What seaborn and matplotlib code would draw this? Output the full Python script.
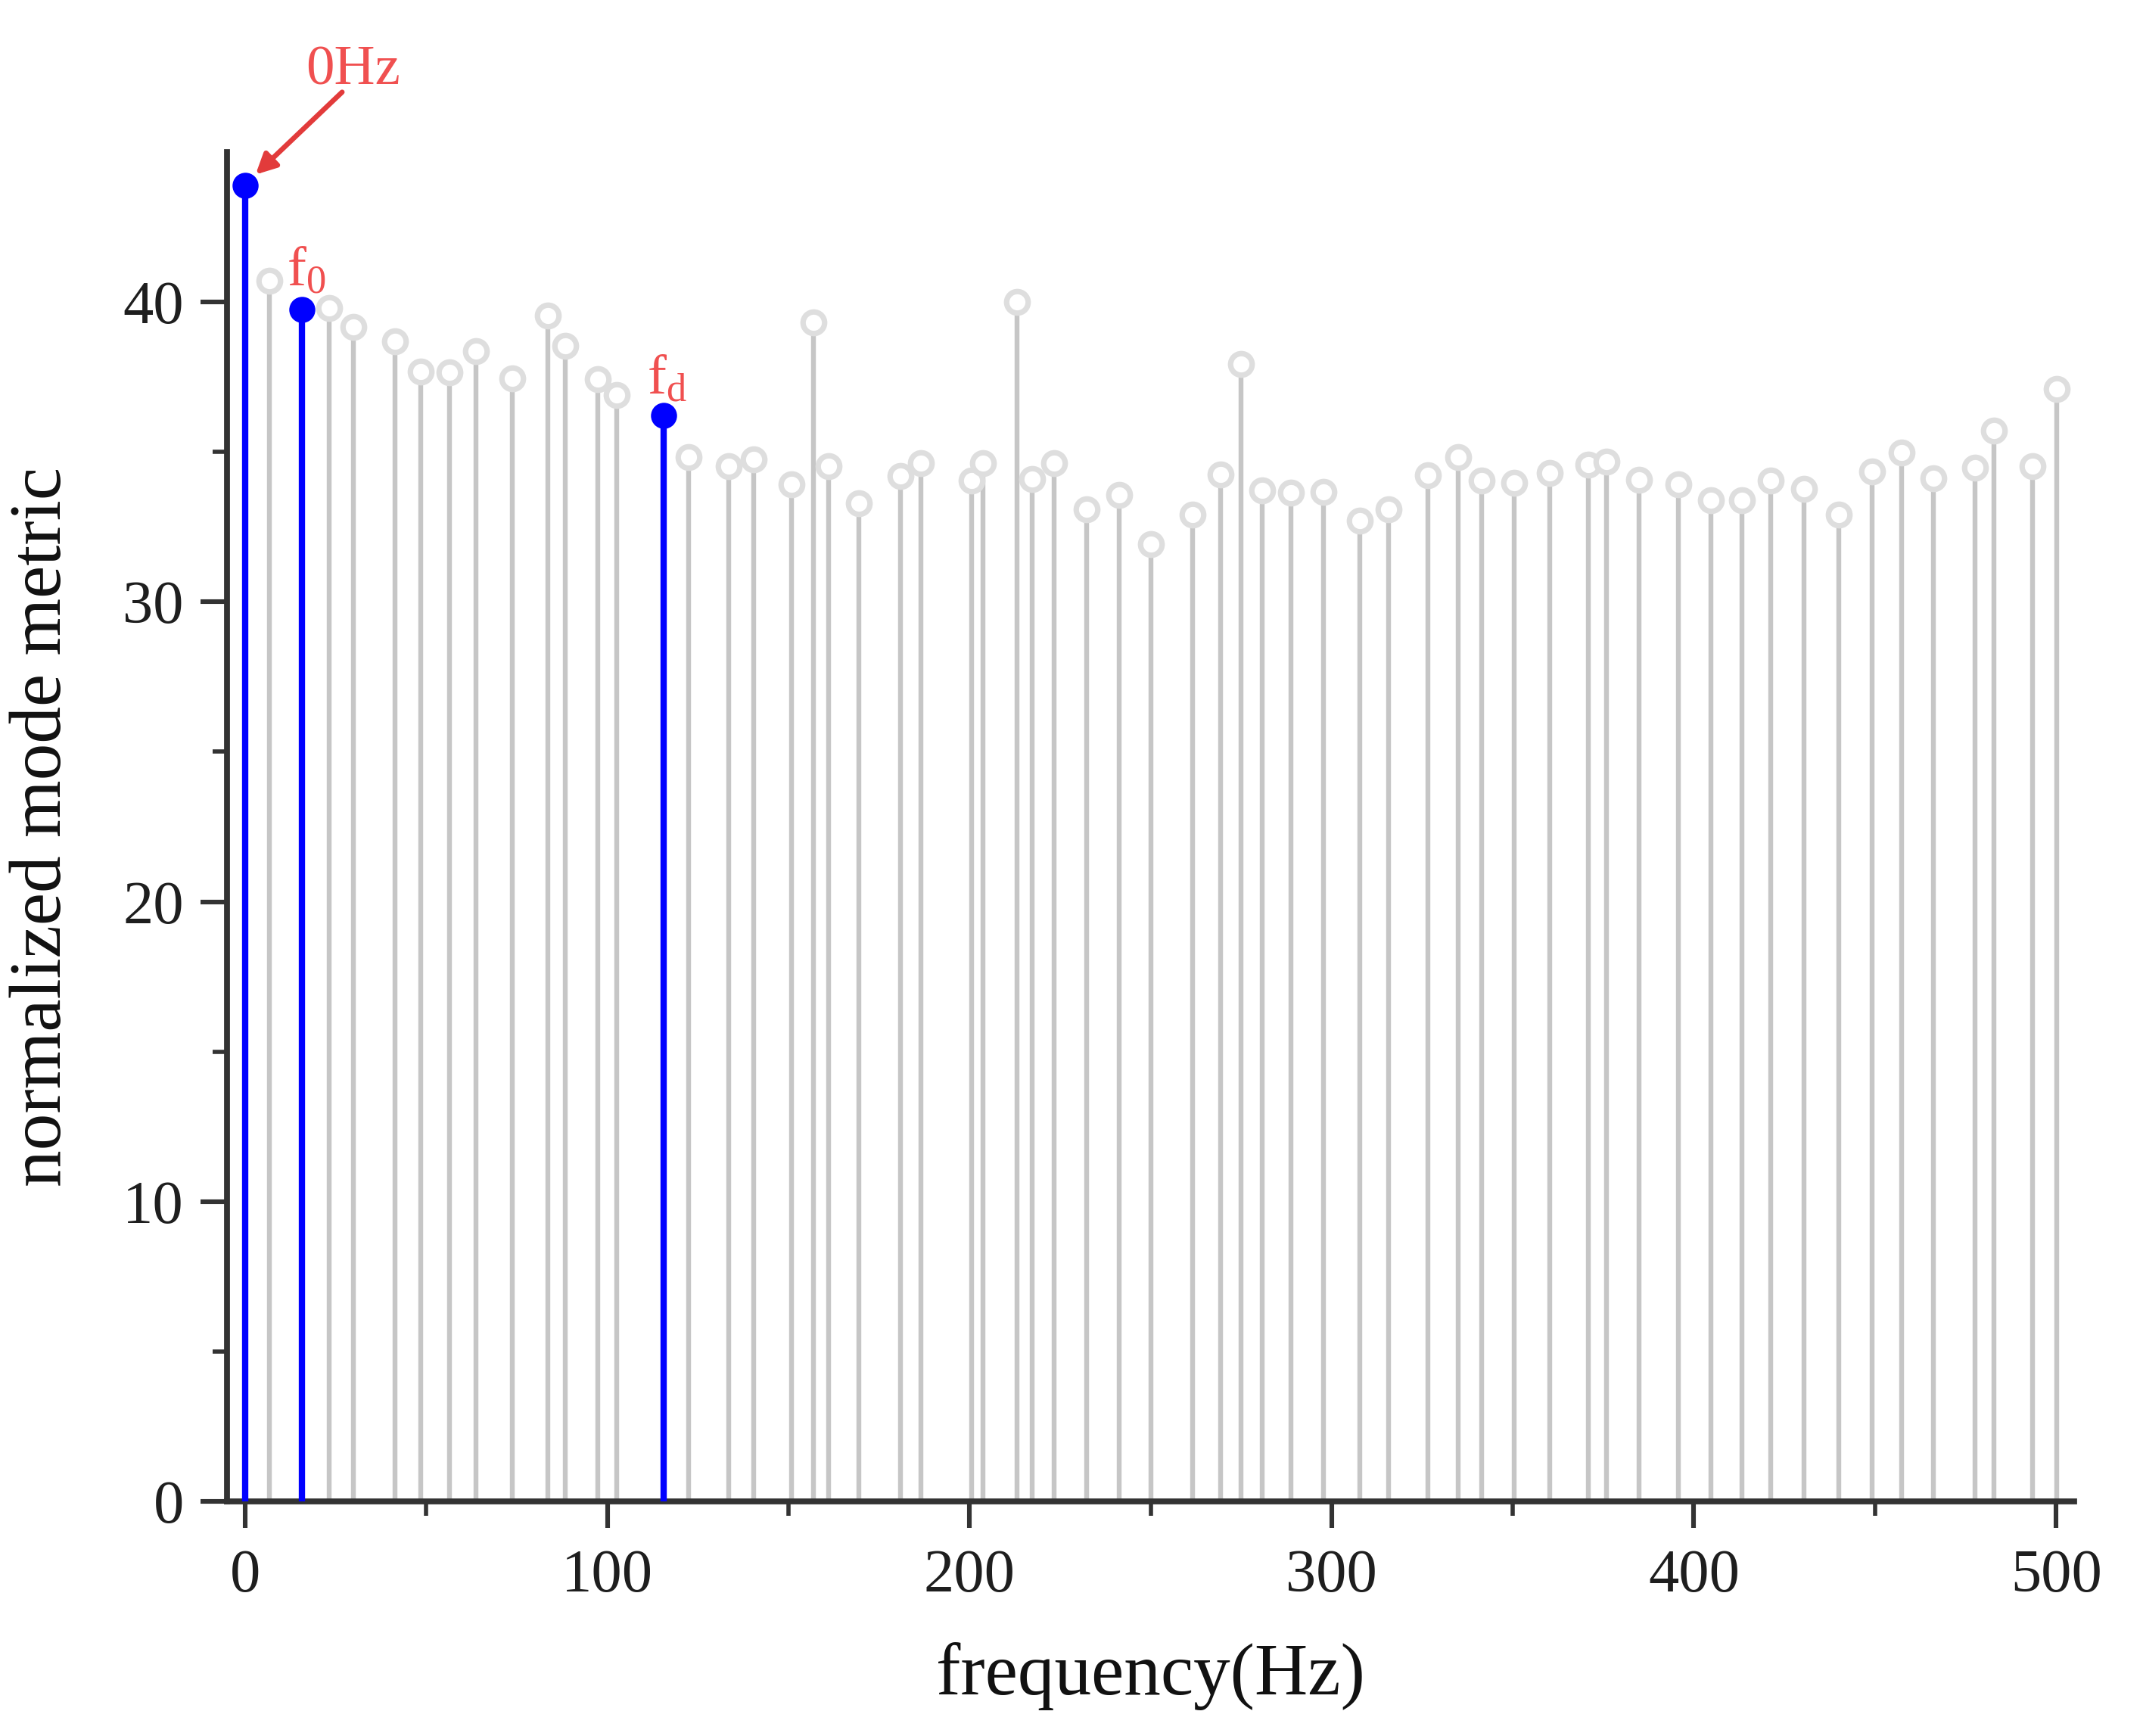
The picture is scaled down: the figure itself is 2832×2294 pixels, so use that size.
import numpy as np
import pandas as pd
import matplotlib
matplotlib.use("Agg")
import matplotlib.pyplot as plt
import seaborn as sns

# ---------------- data ----------------
gray_freq = [6.7, 23.3, 30.0, 41.3, 48.6, 56.5, 63.8, 73.7, 83.5, 88.3,
             97.4, 102.6, 122.5, 133.5, 140.4, 150.9, 156.9, 161.1, 169.5, 181.0,
             186.5, 200.5, 203.8, 213.2, 217.3, 223.3, 232.3, 241.4, 250.1, 261.6,
             269.4, 274.9, 280.9, 288.8, 297.7, 307.8, 315.8, 326.5, 335.0, 341.4,
             350.3, 360.2, 370.8, 375.9, 384.9, 395.7, 404.6, 413.3, 421.3, 430.4,
             440.0, 449.2, 457.4, 466.2, 477.6, 482.9, 493.4, 500.2]
gray_metric = [40.7, 39.8, 39.17, 38.69, 37.67, 37.65, 38.35, 37.45, 39.55, 38.54,
               37.43, 36.9, 34.82, 34.53, 34.76, 33.91, 39.33, 34.53, 33.28, 34.2,
               34.63, 34.05, 34.63, 39.99, 34.1, 34.63, 33.09, 33.57, 31.93, 32.9,
               34.25, 37.92, 33.72, 33.64, 33.67, 32.7, 33.09, 34.22, 34.82, 34.05,
               33.96, 34.3, 34.58, 34.68, 34.08, 33.93, 33.38, 33.38, 34.05, 33.76,
               32.9, 34.34, 34.99, 34.12, 34.47, 35.7, 34.53, 37.1]
key_freq = [0.0, 15.7, 115.5]
key_metric = [43.9, 39.75, 36.22]
key_labels = ["0Hz", r"$\mathrm{f_0}$", r"$\mathrm{f_d}$"]

x_ticks = [0, 100, 200, 300, 400, 500]
y_ticks = [0, 10, 20, 30, 40]

gray_df = pd.DataFrame({"frequency": gray_freq, "metric": gray_metric})
key_df = pd.DataFrame({"frequency": key_freq, "metric": key_metric})

# ---------------- style ----------------
sns.set_theme(style="ticks")
plt.rcParams["font.family"] = ["Liberation Serif", "DejaVu Serif"]
plt.rcParams["mathtext.fontset"] = "custom"
plt.rcParams["mathtext.rm"] = "Liberation Serif"
plt.rcParams["mathtext.it"] = "Liberation Serif:italic"

DPI = 200
fig = plt.figure(figsize=(2832 / DPI, 2294 / DPI), dpi=DPI)
ax = fig.add_axes([0.1059, 0.1351, 0.9679 - 0.1059, 0.9124 - 0.1351])

GRAY_STEM = "#c6c6c6"
GRAY_EDGE = "#dedede"
BLUE = "#0000ff"
RED = "#f05050"

# gray stems
ax.vlines(gray_df["frequency"], 0, gray_df["metric"], color=GRAY_STEM,
          linewidth=2.3, zorder=2)
sns.scatterplot(data=gray_df, x="frequency", y="metric", ax=ax, marker="o",
                s=105, facecolor="white", edgecolor=GRAY_EDGE, linewidth=2.6,
                zorder=3, legend=False)

# highlighted stems
ax.vlines(key_df["frequency"], 0, key_df["metric"], color=BLUE,
          linewidth=3.0, zorder=4)
sns.scatterplot(data=key_df, x="frequency", y="metric", ax=ax, marker="o",
                s=130, color=BLUE, edgecolor=BLUE, linewidth=1.0,
                zorder=5, legend=False)

# annotations
ax.annotate("", xy=(key_freq[0] + 2.9, key_metric[0] + 0.35),
            xytext=(26.8, 47.0), textcoords="data", annotation_clip=False,
            arrowprops=dict(arrowstyle="-|>", color="#e23b3b", lw=2.4,
                            mutation_scale=20, shrinkA=0, shrinkB=0))
ax.text(29.9, 47.7, key_labels[0], color=RED, fontsize=27, ha="center",
        va="center", clip_on=False)
ax.text(17.0, 40.55, key_labels[1], color=RED, fontsize=27, ha="center",
        va="baseline")
ax.text(116.5, 36.95, key_labels[2], color=RED, fontsize=27, ha="center",
        va="baseline")

# axes
ax.set_xlim(-5, 505)
ax.set_ylim(0, 45)
ax.set_xticks(x_ticks)
ax.set_yticks(y_ticks)
ax.set_xticks([50, 150, 250, 350, 450], minor=True)
ax.set_yticks([5, 15, 25, 35], minor=True)
ax.set_xlabel("frequency(Hz)", fontsize=35, color="#111111", labelpad=18)
ax.set_ylabel("normalized mode metric", fontsize=35, color="#111111", labelpad=22)

for side in ["top", "right"]:
    ax.spines[side].set_visible(False)
for side in ["left", "bottom"]:
    ax.spines[side].set_linewidth(2.8)
    ax.spines[side].set_color("#333333")

ax.tick_params(axis="both", which="major", direction="out", length=12.5,
               width=2.2, color="#333333", labelsize=29, labelcolor="#1e1e1e")
ax.tick_params(axis="both", which="minor", direction="out", length=7,
               width=2.0, color="#333333")
ax.tick_params(axis="x", which="major", pad=10)
ax.tick_params(axis="y", which="major", pad=8)
ax.grid(False)
ax.set_facecolor("white")
fig.patch.set_facecolor("white")

fig.savefig("out.png", dpi=DPI)
